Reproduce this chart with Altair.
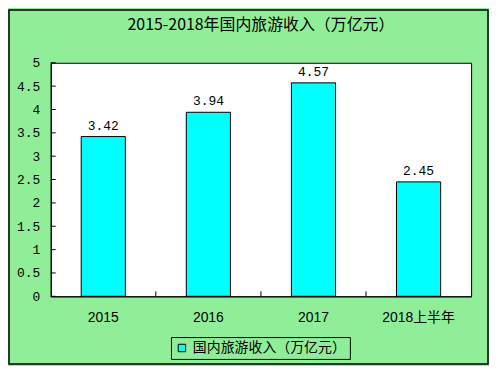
import altair as alt
import pandas as pd

categories = ["2015", "2016", "2017", "2018上半年"]
values = [3.42, 3.94, 4.57, 2.45]
series_name = "国内旅游收入（万亿元）"
title_text = "2015-2018年国内旅游收入（万亿元）"
y_ticks = [0, 0.5, 1, 1.5, 2, 2.5, 3, 3.5, 4, 4.5, 5]

GREEN = "#90EE98"
CJK = "Noto Sans CJK SC"
MONO = "Liberation Mono"

W, H = 423, 235
PL, PT, PR, PB = 43, 54, 18, 69

df = pd.DataFrame({"cat": categories, "val": values, "series": [series_name] * len(categories)})
df_ticks = pd.DataFrame({"t": y_ticks})
df_bounds = pd.DataFrame({"cat": categories[1:]})

xs = alt.Scale(domain=categories, paddingInner=0, paddingOuter=0)
ys = alt.Scale(domain=[0, 5], nice=False)

x_axis = alt.Axis(title=None, labelAngle=0, tickSize=0, labelPadding=14,
                  labelFontSize=14, labelFont="Liberation Sans, " + CJK,
                  labelColor="black", domainColor="black")
y_axis = alt.Axis(title=None, values=y_ticks, format=".1~f", tickSize=0,
                  labelPadding=11, labelFontSize=13, labelFont=MONO,
                  labelColor="black", labelOverlap=False, labelFlush=False,
                  domainColor="black", grid=False)

bars = alt.Chart(df).mark_bar(
    width={"band": 0.42}, stroke="black", strokeWidth=1
).encode(
    x=alt.X("cat:N", scale=xs, sort=categories, axis=x_axis),
    y=alt.Y("val:Q", scale=ys, axis=y_axis),
    color=alt.Color("series:N", scale=alt.Scale(range=["#00FFFF"]),
                    legend=alt.Legend(title=None, orient="none", legendX=121, legendY=276,
                                      direction="horizontal", strokeColor="black",
                                      fillColor=GREEN, padding=4, symbolType="square",
                                      symbolSize=56, symbolStrokeColor="black",
                                      symbolStrokeWidth=1, labelFont=CJK, labelOffset=4,
                                      labelFontSize=14, labelColor="black")),
)

labels = alt.Chart(df).mark_text(
    baseline="alphabetic", dy=-7, font=MONO, fontSize=13, color="black"
).encode(
    x=alt.X("cat:N", scale=xs, sort=categories, axis=x_axis),
    y=alt.Y("val:Q", scale=ys, axis=y_axis),
    text=alt.Text("val:Q", format=".2f"),
)

yticks = alt.Chart(df_ticks).mark_rule(color="black").encode(
    y=alt.Y("t:Q", scale=ys, axis=y_axis), x=alt.value(0), x2=alt.value(5)
)

xticks = alt.Chart(df_bounds).mark_rule(color="black").encode(
    x=alt.X("cat:N", scale=xs, sort=categories, bandPosition=0, axis=x_axis),
    y=alt.value(H), y2=alt.value(H - 5),
)

border = alt.Chart(df.head(1)).mark_rect(fill=None, stroke="black", strokeWidth=1.5).encode(
    x=alt.value(-PL + 1), x2=alt.value(W + PR - 1),
    y=alt.value(-PT + 1), y2=alt.value(H + PB - 1),
)

chart = alt.layer(bars, labels, yticks, xticks, border).properties(
    width=W, height=H,
    autosize=alt.AutoSizeParams(type="none"),
    padding={"left": PL, "top": PT, "right": PR, "bottom": PB},
    background=GREEN,
    title=alt.Title(title_text, font=CJK, fontSize=16, fontWeight="normal",
                    color="black", anchor="middle", offset=-40, baseline="bottom"),
).configure_view(fill="white", stroke="black", strokeWidth=1)

chart.save("out.html", embed_options={"renderer": "svg", "actions": False})
